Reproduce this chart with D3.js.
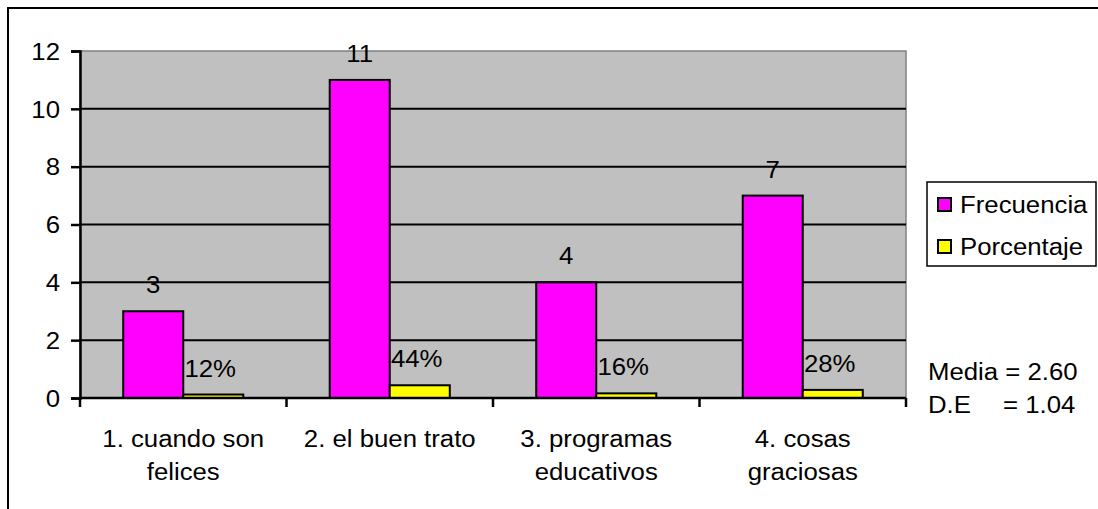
<!DOCTYPE html>
<html>
<head>
<meta charset="utf-8">
<script src="https://cdn.jsdelivr.net/npm/d3@7"></script>
<style>
  body { margin: 0; background: #fff; }
  svg text { font-family: "Liberation Sans", Arial, sans-serif; fill: #000; }
</style>
</head>
<body>
<div id="container"></div>
<script>
/*
    Chart data
*/
var categories = ["1. cuando son felices", "2. el buen trato", "3. programas educativos", "4. cosas graciosas"];
var categoryLines = [["1. cuando son", "felices"], ["2. el buen trato"], ["3. programas", "educativos"], ["4. cosas", "graciosas"]];
var frecuencia = [3, 11, 4, 7];
var porcentaje = [0.12, 0.44, 0.16, 0.28];
var porcentajeLabels = ["12%", "44%", "16%", "28%"];
var seriesNames = ["Frecuencia", "Porcentaje"];
var seriesColors = ["#ff00ff", "#ffff00"];
var yTicks = [0, 2, 4, 6, 8, 10, 12];
var statsLines = [["Media = 2.60", ""], ["D.E", "= 1.04"]];

var width = 1098, height = 509;
var FONT = 23;
var STRETCH = 1.12; // the source picture is wider than it is tall

var svg = d3.select("#container").append("svg")
    .attr("width", width)
    .attr("height", height);

/*
    Widen every text a bit, like the original
*/
function stretch(sel) {
    sel.each(function () {
        var len = this.getComputedTextLength();
        if (len > 0) {
            d3.select(this)
                .attr("textLength", len * STRETCH)
                .attr("lengthAdjust", "spacingAndGlyphs");
        }
    });
}

// outer chart frame (clipped on right and bottom)
svg.append("rect")
    .attr("x", 8).attr("y", 8)
    .attr("width", width + 10).attr("height", height + 10)
    .attr("fill", "none").attr("stroke", "#000").attr("stroke-width", 2);

var plot = { left: 80, top: 51, right: 906, bottom: 398 };

var x = d3.scaleBand()
    .domain(categories)
    .range([plot.left, plot.right])
    .paddingInner(0)
    .paddingOuter(0);

var inner = d3.scaleBand()
    .domain(seriesNames)
    .range([0, x.bandwidth()])
    .paddingInner(0)
    .paddingOuter(0.72);

var y = d3.scaleLinear()
    .domain([0, 12])
    .range([plot.bottom, plot.top]);

var g = svg.append("g");

// plot background
g.append("rect")
    .attr("x", plot.left).attr("y", plot.top)
    .attr("width", plot.right - plot.left).attr("height", plot.bottom - plot.top)
    .attr("fill", "#c0c0c0")
    .attr("stroke", "#808080").attr("stroke-width", 1.5);

// gridlines
g.selectAll(".grid")
    .data(yTicks.filter(function (d) { return d > 0 && d < 12; }))
    .enter().append("line")
    .attr("x1", plot.left).attr("x2", plot.right)
    .attr("y1", function (d) { return y(d); })
    .attr("y2", function (d) { return y(d); })
    .attr("stroke", "#000").attr("stroke-width", 2);

// bars
var groups = g.selectAll(".cat")
    .data(categories)
    .enter().append("g")
    .attr("transform", function (d) { return "translate(" + x(d) + ",0)"; });

groups.append("rect")
    .attr("x", inner("Frecuencia"))
    .attr("y", function (d, i) { return y(frecuencia[i]); })
    .attr("width", inner.bandwidth())
    .attr("height", function (d, i) { return y(0) - y(frecuencia[i]); })
    .attr("fill", seriesColors[0]).attr("stroke", "#000").attr("stroke-width", 2);

groups.append("rect")
    .attr("x", inner("Porcentaje"))
    .attr("y", function (d, i) { return y(porcentaje[i]); })
    .attr("width", inner.bandwidth())
    .attr("height", function (d, i) { return y(0) - y(porcentaje[i]); })
    .attr("fill", seriesColors[1]).attr("stroke", "#000").attr("stroke-width", 2);

// value labels
groups.append("text")
    .attr("x", inner("Frecuencia") + inner.bandwidth() / 2)
    .attr("y", function (d, i) { return y(frecuencia[i]) - 18; })
    .attr("text-anchor", "middle")
    .style("font-size", FONT + "px")
    .text(function (d, i) { return frecuencia[i]; })
    .call(stretch);

groups.append("text")
    .attr("x", inner("Porcentaje") + inner.bandwidth() / 2 - 3)
    .attr("y", function (d, i) { return y(porcentaje[i]) - 18; })
    .attr("text-anchor", "middle")
    .style("font-size", FONT + "px")
    .text(function (d, i) { return porcentajeLabels[i]; })
    .call(stretch);

// y axis
var yAxis = d3.axisLeft(y).tickValues(yTicks).tickSize(9).tickPadding(11);
var ya = g.append("g")
    .attr("transform", "translate(" + plot.left + ",0)")
    .call(yAxis);
ya.select(".domain").attr("stroke", "#000").attr("stroke-width", 2.5);
ya.selectAll(".tick line").attr("stroke", "#000").attr("stroke-width", 2.5);
ya.selectAll(".tick text")
    .style("font-size", FONT + "px")
    .style("font-family", "'Liberation Sans', Arial, sans-serif")
    .attr("dy", "0.36em")
    .call(stretch);

// x axis with category separators
var xa = g.append("g")
    .attr("transform", "translate(0," + plot.bottom + ")");
xa.append("line")
    .attr("x1", plot.left).attr("x2", plot.right)
    .attr("stroke", "#000").attr("stroke-width", 2.5);
var bounds = categories.map(function (d) { return x(d); }).concat([plot.right]);
xa.selectAll(".sep")
    .data(bounds)
    .enter().append("line")
    .attr("x1", function (d) { return d; }).attr("x2", function (d) { return d; })
    .attr("y1", 0).attr("y2", 9)
    .attr("stroke", "#000").attr("stroke-width", 2.5);

categories.forEach(function (d, i) {
    categoryLines[i].forEach(function (line, j) {
        xa.append("text")
            .attr("x", x(d) + x.bandwidth() / 2)
            .attr("y", 49 + j * 33)
            .attr("text-anchor", "middle")
            .style("font-size", FONT + "px")
            .text(line)
            .call(stretch);
    });
});

// legend
var legend = svg.append("g");
legend.append("rect")
    .attr("x", 927).attr("y", 182)
    .attr("width", 169).attr("height", 84)
    .attr("fill", "#fff").attr("stroke", "#000").attr("stroke-width", 1.5);
seriesNames.forEach(function (name, i) {
    legend.append("rect")
        .attr("x", 938).attr("y", 198 + i * 42)
        .attr("width", 13).attr("height", 13)
        .attr("fill", seriesColors[i]).attr("stroke", "#000").attr("stroke-width", 2);
    legend.append("text")
        .attr("x", 960).attr("y", 213 + i * 42)
        .style("font-size", FONT + "px")
        .text(name)
        .call(stretch);
});

// summary statistics
statsLines.forEach(function (row, i) {
    svg.append("text")
        .attr("x", 928).attr("y", 380 + i * 33)
        .style("font-size", FONT + "px")
        .text(row[0])
        .call(stretch);
    if (row[1]) {
        svg.append("text")
            .attr("x", 1003).attr("y", 380 + i * 33)
            .style("font-size", FONT + "px")
            .text(row[1])
            .call(stretch);
    }
});
</script>
</body>
</html>
